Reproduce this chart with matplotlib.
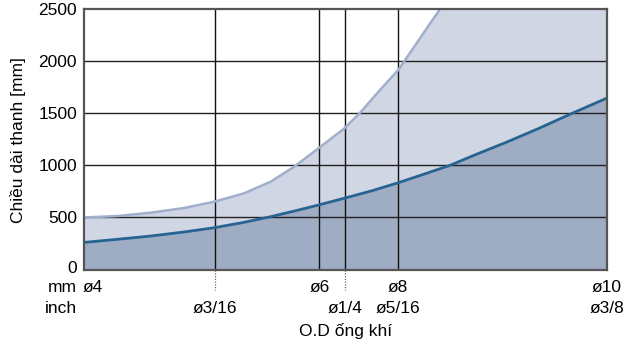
import matplotlib
matplotlib.use("Agg")
import matplotlib.pyplot as plt
import matplotlib.transforms as mtransforms
import numpy as np

plt.rcParams['font.family'] = ['Liberation Sans', 'DejaVu Sans']

# Relative x positions of tube sizes (ø4 = 0, ø10 = 100)
mm_labels = ["ø4", "ø6", "ø8", "ø10"]
mm_pos = [0, 45, 60, 100]
inch_labels = ["ø3/16", "ø1/4", "ø5/16", "ø3/8"]
inch_pos = [25, 50, 60, 100]
vline_pos = [25, 45, 50, 60]
dotted_pos = [25, 50]

# Lower curve (dark blue)
lower_x = [0, 6.4, 12.7, 19.1, 24.9, 30.6, 35.7, 40.2, 44.6, 49.7, 55, 60.1, 65, 70, 75, 80.8, 87, 93.6, 100]
lower_y = [260, 290, 321, 360, 401, 453, 507, 561, 616, 683, 755, 833, 915, 1000, 1105, 1222, 1355, 1505, 1645]

# Upper curve (light)
upper_x = [0, 6.4, 12.7, 19.1, 24.9, 30.6, 35.7, 40.2, 44.7, 49.8, 52.8, 56.6, 60.1, 63.6, 66.2, 68.1, 72, 100]
upper_y = [500, 513, 545, 590, 651, 731, 843, 987, 1158, 1355, 1505, 1723, 1915, 2171, 2363, 2500, 2850, 6000]

yticks = [0, 500, 1000, 1500, 2000, 2500]

fig = plt.figure(figsize=(6.27, 3.47), dpi=100)
ax = fig.add_axes([0.134, 0.2233, 0.834, 0.7507])

light_fill = "#d0d6e4"
light_line = "#a0b0cc"
dark_fill = "#9eacc4"
dark_line = "#286491"

ax.fill_between(upper_x, 0, upper_y, color=light_fill, lw=0, zorder=1)
ax.fill_between(lower_x, 0, lower_y, color=dark_fill, lw=0, zorder=1.2)

for y in yticks[1:-1]:
    ax.axhline(y, color="#222222", lw=1.0, zorder=2)
for x in vline_pos:
    ax.axvline(x, color="#111111", lw=1.0, zorder=2)

ax.plot(upper_x, upper_y, color=light_line, lw=1.8, zorder=3)
ax.plot(lower_x, lower_y, color=dark_line, lw=2.0, zorder=3.2)

fs = 12.5
ax.set_xlim(0, 100)
ax.set_ylim(0, 2500)
ax.set_yticks(yticks)
ax.set_yticklabels([str(v) for v in yticks], fontsize=fs)
ax.tick_params(axis='y', length=0, pad=5)
ax.set_xticks([])
for sp in ax.spines.values():
    sp.set_color("#555555")
    sp.set_linewidth(1.6)
    sp.set_zorder(4)

# nudge the "0" tick label up slightly so it clears the "mm" row
lab0 = ax.get_yticklabels()[0]
lab0.set_transform(lab0.get_transform() +
                   mtransforms.ScaledTranslation(0, 2.5 / 100, fig.dpi_scale_trans))

trans = mtransforms.blended_transform_factory(ax.transData, ax.transAxes)
for x in dotted_pos:
    ax.plot([x, x], [0, -0.08], transform=trans, color="#666666", lw=0.9,
            ls=(0, (1, 1.2)), clip_on=False)

row1, row2 = -18, -39
for lab, x in zip(mm_labels, mm_pos):
    ha = 'left' if x == 0 else 'center'
    ax.annotate(lab, xy=(x, 0), xycoords=trans, xytext=(0 if x else -1, row1),
                textcoords='offset pixels', ha=ha, va='center', fontsize=fs)
for lab, x in zip(inch_labels, inch_pos):
    ax.annotate(lab, xy=(x, 0), xycoords=trans, xytext=(0, row2),
                textcoords='offset pixels', ha='center', va='center', fontsize=fs)
ax.annotate("mm", xy=(0, 0), xycoords=trans, xytext=(-7, row1),
            textcoords='offset pixels', ha='right', va='center', fontsize=fs)
ax.annotate("inch", xy=(0, 0), xycoords=trans, xytext=(-7, row2),
            textcoords='offset pixels', ha='right', va='center', fontsize=fs)
ax.annotate("O.D ống khí", xy=(0.5, 0), xycoords='axes fraction', xytext=(0, -61),
            textcoords='offset pixels', ha='center', va='center', fontsize=fs)

fig.text(18 / 627, 1 - 140 / 347, "Chiều dài thanh [mm]", rotation=90,
         ha='center', va='center', fontsize=fs)

fig.savefig("out.png", dpi=100)
